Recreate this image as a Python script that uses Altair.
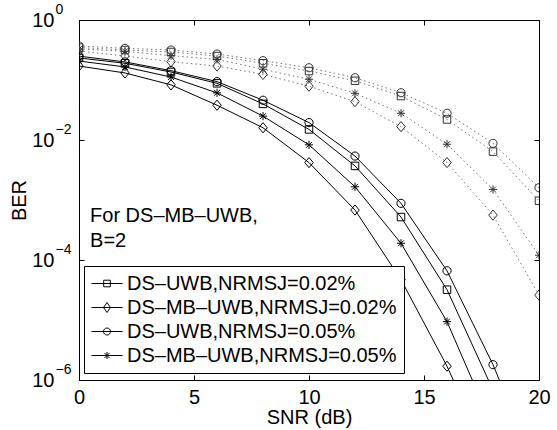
import altair as alt
import pandas as pd

FONT = "Liberation Sans"

snr = [0, 2, 4, 6, 8, 10, 12, 14, 16, 18, 20]

# solid curves (shown in legend)
ber_dsuwb_002 = [0.233, 0.19, 0.136, 0.088, 0.040, 0.015, 0.0037, 5.2e-4, 3.2e-5, 6.8e-7, 6e-9]
ber_dsmb_002 = [0.171, 0.131, 0.083, 0.038, 0.016, 0.0042, 6.8e-4, 4.7e-5, 1.7e-6, 3.4e-8, 5e-10]
ber_dsuwb_005 = [0.25, 0.20, 0.143, 0.094, 0.046, 0.0195, 0.0054, 8.8e-4, 6.6e-5, 1.8e-6, 2.5e-8]
ber_dsmb_005 = [0.207, 0.165, 0.112, 0.061, 0.025, 0.0083, 0.00166, 1.9e-4, 9.4e-6, 1.6e-7, 2.5e-9]

# dotted curves
dot_circle = [0.369, 0.337, 0.316, 0.271, 0.210, 0.160, 0.109, 0.0614, 0.0279, 0.0088, 0.0016]
dot_square = [0.348, 0.316, 0.293, 0.251, 0.19, 0.141, 0.097, 0.054, 0.022, 0.0064, 9.7e-4]
dot_star = [0.329, 0.301, 0.254, 0.221, 0.151, 0.103, 0.060, 0.0279, 0.0085, 0.0015, 1.2e-4]
dot_diamond = [0.304, 0.251, 0.202, 0.171, 0.124, 0.079, 0.0435, 0.0167, 0.0042, 5.6e-4, 2.6e-5]

legend_labels = [
    "DS–UWB,NRMSJ=0.02%",
    "DS–MB–UWB,NRMSJ=0.02%",
    "DS–UWB,NRMSJ=0.05%",
    "DS–MB–UWB,NRMSJ=0.05%",
]
markers = ["square", "diamond", "circle", "star"]

annot_text = ["For DS–MB–UWB,", "B=2"]
annot_x = [0.48, 0.48]
annot_y = [5.4e-4, 2.07e-4]

x_ticks = [0, 5, 10, 15, 20]
y_ticks = [1e-6, 1e-4, 1e-2, 1]

solid_sets = [ber_dsuwb_002, ber_dsmb_002, ber_dsuwb_005, ber_dsmb_005]
dotted_sets = [dot_square, dot_diamond, dot_circle, dot_star]

rows_s, rows_d = [], []
for lab, mk, vals in zip(legend_labels, markers, solid_sets):
    for s, v in zip(snr, vals):
        rows_s.append({"snr": s, "ber": v, "series": lab, "marker": mk})
for mk, vals in zip(markers, dotted_sets):
    for s, v in zip(snr, vals):
        rows_d.append({"snr": s, "ber": v, "series": "dot_" + mk, "marker": mk})
df_s = pd.DataFrame(rows_s)
df_d = pd.DataFrame(rows_d)
df_leg = pd.DataFrame({"label": legend_labels})
df_ann = pd.DataFrame({"t": annot_text, "x": annot_x, "y": annot_y})

marker_paths = [
    "M-0.75,-0.75H0.75V0.75H-0.75Z",
    "M0,-1.02L0.85,0L0,1.02L-0.85,0Z",
    "M0.82,0A0.82,0.82,0,1,1,-0.82,0A0.82,0.82,0,1,1,0.82,0Z",
    "M0,-0.82V0.82M-0.82,0H0.82M-0.58,-0.58L0.58,0.58M-0.58,0.58L0.58,-0.58",
]
# legend symbols: size 400 -> 10 px per unit; line spans 31 px, marker at its middle
legend_paths = [
    "M-1,0H2.1M0.22,-0.33H0.88V0.33H0.22Z",
    "M-1,0H2.1M0.55,-0.5L0.9,0L0.55,0.5L0.2,0Z",
    "M-1,0H2.1M0.9,0A0.35,0.35,0,1,1,0.2,0A0.35,0.35,0,1,1,0.9,0Z",
    "M-1,0H2.1M0.55,-0.35V0.35M0.3,-0.25L0.8,0.25M0.3,0.25L0.8,-0.25",
]

W, H = 460, 360
xscale = alt.Scale(domain=[0, 20], nice=False, zero=False)
yscale = alt.Scale(type="log", domain=[1e-6, 1], nice=False)

tick_common = dict(labels=False, ticks=True, tickSize=5, tickColor="black",
                   domain=False, grid=False, title=None)

xa_labels = alt.Axis(values=x_ticks, title="SNR (dB)", ticks=False, domain=False,
                     grid=False, labelFlush=False, labelPadding=7, titlePadding=0,
                     labelFontSize=20, titleFontSize=20)
xa_bot = alt.Axis(orient="top", offset=-H, values=x_ticks, **tick_common)
xa_top = alt.Axis(orient="bottom", offset=-H, values=x_ticks, **tick_common)

ya_labels = alt.Axis(orient="left", values=y_ticks, labelExpr="'10'", ticks=False,
                     domain=False, grid=False, labelPadding=25, labelFontSize=20,
                     title="BER", titleFontSize=20, titlePadding=2)
ya_exp = alt.Axis(orient="left", values=y_ticks,
                  labelExpr="format(round(log(datum.value)/LN10),'d')",
                  ticks=False, domain=False, grid=False, labelPadding=24,
                  labelAlign="left", labelOffset=-11, labelFontSize=14, title=None)
ya_left = alt.Axis(orient="right", offset=-W, values=y_ticks, **tick_common)
ya_right = alt.Axis(orient="left", offset=-W, values=y_ticks, **tick_common)

shape_scale = alt.Scale(domain=markers, range=marker_paths)

dotted_lines = alt.Chart(df_d).mark_line(
    color="#777", strokeWidth=1, strokeDash=[1.5, 3], clip=True
).encode(
    x=alt.X("snr:Q", scale=xscale, axis=xa_labels),
    y=alt.Y("ber:Q", scale=yscale, axis=ya_labels),
    detail="series:N",
)

solid_lines = alt.Chart(df_s).mark_line(
    color="black", strokeWidth=1, clip=True
).encode(
    x=alt.X("snr:Q", scale=xscale, axis=xa_bot),
    y=alt.Y("ber:Q", scale=yscale, axis=ya_exp),
    detail="series:N",
)

dotted_pts = alt.Chart(df_d).mark_point(
    filled=False, color="#333", size=100, strokeWidth=1, opacity=1, clip=True
).encode(
    x=alt.X("snr:Q", scale=xscale, axis=xa_top),
    y=alt.Y("ber:Q", scale=yscale, axis=ya_left),
    shape=alt.Shape("marker:N", scale=shape_scale, legend=None),
)

solid_pts = alt.Chart(df_s).mark_point(
    filled=False, color="black", size=100, strokeWidth=1, opacity=1, clip=True
).encode(
    x=alt.X("snr:Q", scale=xscale, axis=None),
    y=alt.Y("ber:Q", scale=yscale, axis=ya_right),
    shape=alt.Shape("marker:N", scale=shape_scale, legend=None),
)

legend_layer = alt.Chart(df_leg).mark_point(
    filled=False, color="black", size=400, strokeWidth=1, opacity=0
).encode(
    shape=alt.Shape(
        "label:N",
        scale=alt.Scale(domain=legend_labels, range=legend_paths),
        legend=alt.Legend(
            title=None, orient="none", legendX=5, legendY=246,
            fillColor="white", strokeColor="black", padding=7,
            labelFontSize=20, labelFont=FONT, labelColor="black", labelLimit=0,
            labelOffset=15, symbolSize=400, symbolStrokeColor="black",
            symbolFillColor="transparent", symbolOpacity=1, symbolStrokeWidth=1,
            rowPadding=3,
        ),
    )
)

annot = alt.Chart(df_ann).mark_text(
    align="left", baseline="middle", fontSize=20, font=FONT, color="black"
).encode(
    x=alt.X("x:Q", scale=xscale, axis=None),
    y=alt.Y("y:Q", scale=yscale, axis=None),
    text="t:N",
)

chart = alt.layer(
    dotted_lines, solid_lines, dotted_pts, solid_pts, legend_layer, annot
).resolve_scale(
    shape="independent"
).resolve_axis(
    x="independent", y="independent"
).properties(
    width=W, height=H,
    autosize=alt.AutoSizeParams(type="none"),
    padding={"left": 79, "top": 20, "right": 18, "bottom": 50},
    background="white",
).configure_view(
    stroke="black", strokeWidth=1
).configure_axis(
    labelFont=FONT, titleFont=FONT, labelColor="black", titleColor="black",
    titleFontWeight="normal",
)

chart.save("out.html", embed_options={"renderer": "svg", "actions": False})
